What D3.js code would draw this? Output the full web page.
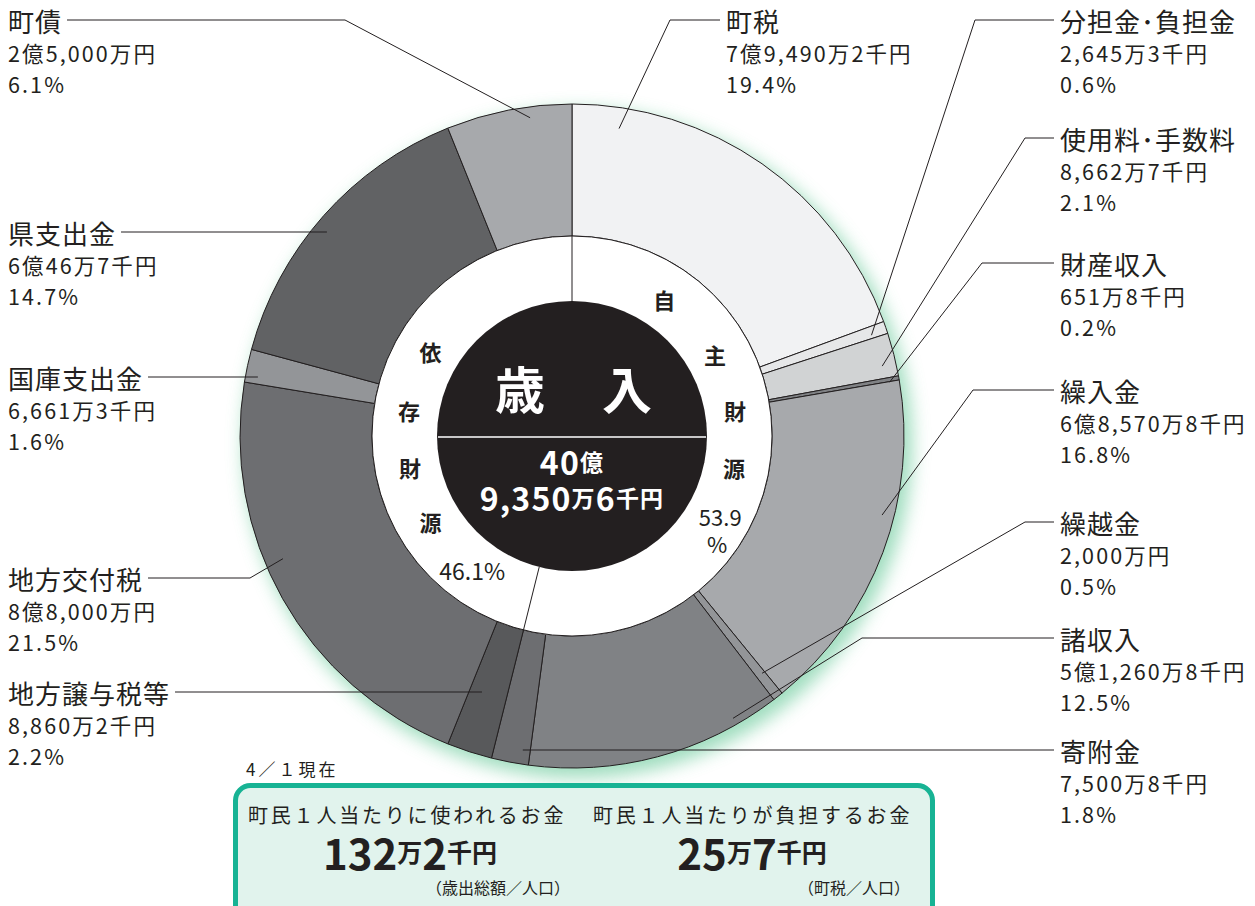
<!DOCTYPE html>
<html><head><meta charset="utf-8">
<script src="https://cdn.jsdelivr.net/npm/d3@7"></script>
<style>
body{margin:0;background:#fff;}
text{font-family:"Noto Sans CJK JP","Noto Sans",sans-serif;fill:#231f20;}
</style>
</head><body>
<svg id="chart" width="1255" height="906"></svg>
<script>
// ---------- data ----------
const categories = ["町税","分担金･負担金","使用料･手数料","財産収入","繰入金","繰越金","諸収入","寄附金","地方譲与税等","地方交付税","国庫支出金","県支出金","町債"];
const amounts = ["7億9,490万2千円","2,645万3千円","8,662万7千円","651万8千円","6億8,570万8千円","2,000万円","5億1,260万8千円","7,500万8千円","8,860万2千円","8億8,000万円","6,661万3千円","6億46万7千円","2億5,000万円"];
const percents = [19.4,0.6,2.1,0.2,16.8,0.5,12.5,1.8,2.2,21.5,1.6,14.7,6.1];
const groupChars = [["自","主","財","源"],["依","存","財","源"]];
const groupPercents = [53.9,46.1];
const centerTitle = ["歳","入"];
const totalParts = [[["40",1],["億",0]],[["9,350",1],["万",0],["6",1],["千円",0]]];
const perCapitaTitles = ["町民１人当たりに使われるお金","町民１人当たりが負担するお金"];
const perCapitaValues = [[["132",1],["万",0],["2",1],["千円",0]],[["25",1],["万",0],["7",1],["千円",0]]];
const perCapitaNotes = ["（歳出総額／人口）","（町税／人口）"];
const dateNote = "4／１現在";

// ---------- style / layout ----------
const sliceColors = ["#f1f2f3","#e6e7e8","#d1d3d4","#808285","#a7a9ac","#939598","#808285","#6d6e71","#58595b","#6d6e71","#939598","#616264","#a7a9ac"];
// [textX, nameCenterY, elbowX (null = straight), endAngleDeg, endRadius]
const labelLayout = [
  [726,20,670,8.7,311],
  [1060,20,975,71.4,316],
  [1060,138,1025,77.3,318],
  [1060,263,982,80.4,322],
  [1060,390,973,104.3,320],
  [1060,522,1025,141.3,304],
  [1060,638,862,150.3,325],
  [1060,750,null,188.9,318],
  [8,692,null,199.4,271],
  [8,578,250,247,314],
  [8,377,null,281,320],
  [8,232,null,309.8,319],
  [8,20,345,352.5,321]
];
const cx = 572, cy = 436, R = 332, r0 = 200, rc = 135;

const svg = d3.select("#chart");
const defs = svg.append("defs");
const f = defs.append("filter").attr("id","glow").attr("x","-20%").attr("y","-20%").attr("width","140%").attr("height","140%");
f.append("feGaussianBlur").attr("stdDeviation",9);

const g = svg.append("g").attr("transform",`translate(${cx},${cy})`);

// green glow
g.append("circle").attr("cx",6).attr("cy",8).attr("r",R+2)
  .attr("fill","#86d4ad").attr("opacity",0.8).attr("filter","url(#glow)");

const color = d3.scaleOrdinal().domain(categories).range(sliceColors);
const pie = d3.pie().sort(null).value(d => d.p);
const data = categories.map((c,i)=>({c, a:amounts[i], p:percents[i]}));
const arcs = pie(data);
const arc = d3.arc().innerRadius(r0).outerRadius(R);

g.selectAll("path.slice").data(arcs).join("path")
  .attr("class","slice")
  .attr("d",arc)
  .attr("fill",d=>color(d.data.c))
  .attr("stroke","#231f20").attr("stroke-width",1);

// inner white ring
g.append("circle").attr("r",r0).attr("fill","#fff").attr("stroke","#231f20").attr("stroke-width",1);
const totalP = d3.sum(percents);
const divAngles = [0, groupPercents[0]/totalP*2*Math.PI];
divAngles.forEach(a=>{
  g.append("line")
    .attr("x1",rc*Math.sin(a)).attr("y1",-rc*Math.cos(a))
    .attr("x2",r0*Math.sin(a)).attr("y2",-r0*Math.cos(a))
    .attr("stroke","#231f20").attr("stroke-width",1);
});

function polar(deg, rr){ const a=deg*Math.PI/180; return [rr*Math.sin(a), -rr*Math.cos(a)]; }
const ringAnglesRight = [34,60,81,101];
const ringAnglesLeft = [301,279,259,239];
function ringChar(ch, deg){
  const [x,y]=polar(deg,165);
  g.append("text").attr("x",x).attr("y",y).attr("text-anchor","middle").attr("dominant-baseline","central")
    .attr("font-size",22).attr("font-weight",700).text(ch);
}
groupChars[0].forEach((ch,i)=>ringChar(ch, ringAnglesRight[i]));
groupChars[1].forEach((ch,i)=>ringChar(ch, ringAnglesLeft[i]));
{
  const [x,y]=polar(118.7,169);
  const t = g.append("text").attr("text-anchor","middle").attr("dominant-baseline","central").attr("font-size",22);
  t.append("tspan").attr("x",x).attr("y",y-1).text(d3.format(".1f")(groupPercents[0]));
  t.append("tspan").attr("x",x-3).attr("y",y+26).text("%");
  const [x2,y2]=polar(216.7,167);
  g.append("text").attr("x",x2).attr("y",y2).attr("text-anchor","middle").attr("dominant-baseline","central")
    .attr("font-size",23).text(d3.format(".1f")(groupPercents[1])+"%");
}

// center black circle
g.append("circle").attr("r",rc).attr("fill","#231f20");
g.append("line").attr("x1",-rc+1).attr("x2",rc-1).attr("y1",1).attr("y2",1).attr("stroke","#fff").attr("stroke-width",1.5);
{
  const t = g.append("text").attr("y",-49).attr("text-anchor","middle").attr("dominant-baseline","central")
    .attr("font-size",50).attr("font-weight",700).style("fill","#fff");
  t.append("tspan").attr("x",-52).text(centerTitle[0]);
  t.append("tspan").attr("x",55).text(centerTitle[1]);
}
{
  const t = g.append("text").attr("text-anchor","middle").attr("dominant-baseline","central")
    .attr("font-weight",700).attr("letter-spacing",1.2).style("fill","#fff");
  [25,61].forEach((yy,i)=>{
    totalParts[i].forEach(([s,isBig],j)=>{
      const sp = t.append("tspan").attr("font-size",isBig?32:23).text(s);
      if (j===0) sp.attr("x",0).attr("y",yy);
    });
  });
}

// labels and leaders
const lab = svg.append("g");
arcs.forEach((d,i)=>{
  const [tx,ty,ex,ang,rr] = labelLayout[i];
  const left = tx < cx;
  const t = lab.append("text").attr("dominant-baseline","central");
  const name = t.append("tspan").attr("x",tx).attr("y",ty).attr("font-size",26).attr("letter-spacing",1).text(d.data.c);
  t.append("tspan").attr("x",tx).attr("y",ty+32).attr("font-size",21.5).attr("letter-spacing",2.1).text(d.data.a);
  t.append("tspan").attr("x",tx).attr("y",ty+63).attr("font-size",21.5).attr("letter-spacing",2.1).text(d3.format(".1f")(d.data.p)+"%");
  const [px,py] = polar(ang, rr);
  const endX = cx+px, endY = cy+py;
  const nameW = name.node().getComputedTextLength();
  const startX = left ? tx + nameW + 5 : tx - 6;
  const pts = ex===null ? [[startX,ty],[endX,ty]] : [[startX,ty],[ex,ty],[endX,endY]];
  lab.append("path").attr("d",d3.line()(pts)).attr("fill","none").attr("stroke","#231f20").attr("stroke-width",1);
});

// date note
svg.append("text").attr("x",246).attr("y",768).attr("dominant-baseline","central")
  .attr("font-size",17).attr("letter-spacing",3).text(dateNote);

// per capita box
svg.append("rect").attr("x",235.5).attr("y",785.5).attr("width",697).attr("height",150).attr("rx",15)
  .attr("fill","#e1f3ed").attr("stroke","#17b394").attr("stroke-width",5);
const boxCols = [[248,410,570],[593,752,910]];
perCapitaTitles.forEach((t,i)=>{
  svg.append("text").attr("x",boxCols[i][0]).attr("y",814).attr("dominant-baseline","central")
    .attr("font-size",20).attr("letter-spacing",2.8).text(t);
  const v = svg.append("text").attr("dominant-baseline","central").attr("font-weight",700);
  perCapitaValues[i].forEach(([s,isBig],j)=>{
    const sp = v.append("tspan").attr("font-size",isBig?42:25).text(s);
    if (j===0) sp.attr("x",0).attr("y",851);
  });
  const w = v.node().getComputedTextLength();
  v.select("tspan").attr("x",boxCols[i][1]-w/2);
  const note = v.append("tspan").attr("font-weight",400).attr("font-size",16).attr("y",887).attr("x",0).text(perCapitaNotes[i]);
  const nw = note.node().getComputedTextLength();
  note.attr("x",boxCols[i][2]-nw);
});
</script>
</body></html>
